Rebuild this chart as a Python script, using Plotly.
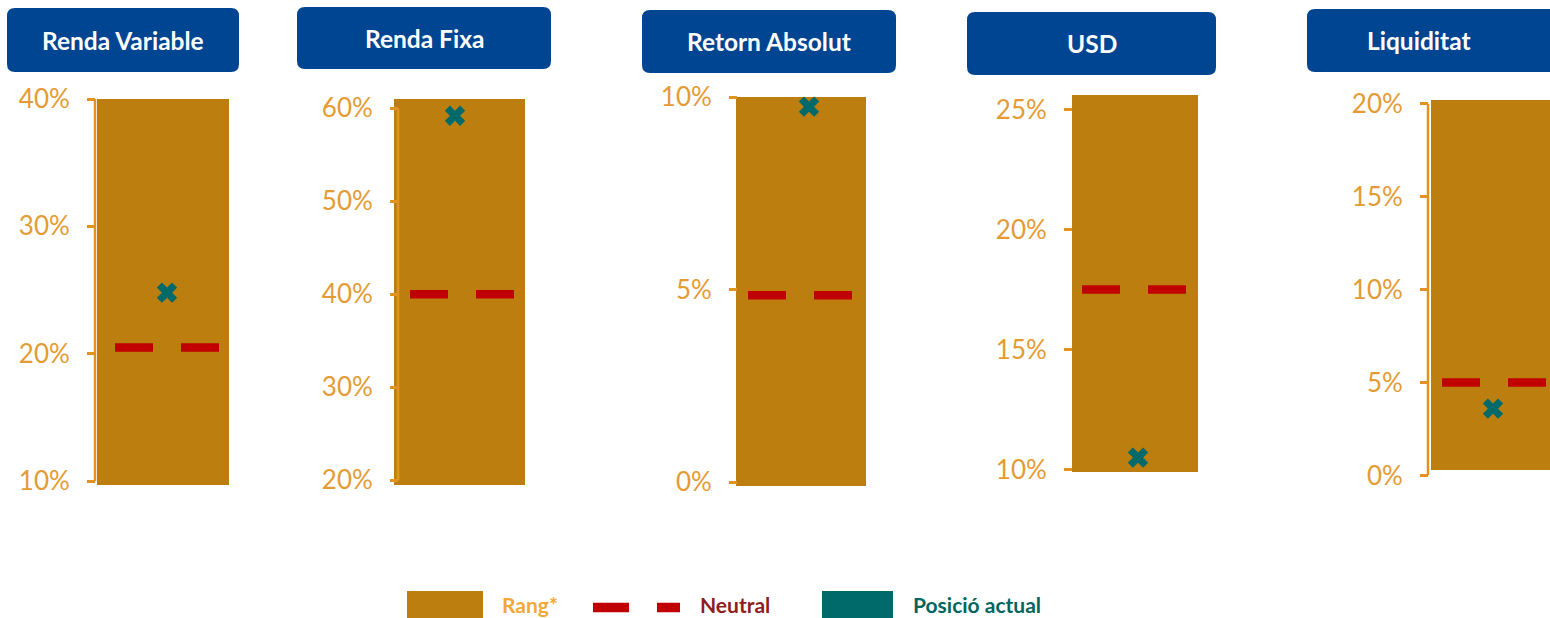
import plotly.graph_objects as go

# ---------------- data ----------------
categories = ["Renda Variable", "Renda Fixa", "Retorn Absolut", "USD", "Liquiditat"]
range_low = [9.7, 19.5, -0.1, 9.9, 0.3]
range_high = [40.0, 61.0, 10.0, 25.6, 20.2]
neutral = [20.5, 40.0, 4.85, 17.5, 5.0]
current = [24.8, 59.2, 9.75, 10.5, 3.6]
tick_values = [[10, 20, 30, 40], [20, 30, 40, 50, 60], [0, 5, 10], [10, 15, 20, 25], [0, 5, 10, 15, 20]]
tick_labels = [[f"{t}%" for t in tv] for tv in tick_values]
legend_labels = ["Rang*", "Neutral", "Posició actual"]

# ---------------- layout / style (pixels) ----------------
W, H = 1550, 618
bar_left = [97, 394, 736, 1072, 1431]
bar_width = [132, 131, 130, 126, 126]
bar_top = [99, 99, 97, 95, 100]
bar_bottom = [485, 485, 486, 472, 470]
axis_x = [95, 398, 737, 1072, 1428]
axis_line = [True, True, False, False, True]
title_box = [(7, 8, 239, 72), (297, 7, 551, 69), (642, 10, 896, 73), (967, 12, 1216, 75), (1307, 9, 1575, 72)]
title_center = [123, 424, 769, 1092, 1419]
# horizontal placement of the marks inside each bar (pixels from bar left)
dash_start_px = [18, 16, 12, 10, 11]
dash_len_px = 104
marker_px = [70, 61, 73, 66, 62]

GOLD = "#BC7F0F"
BLUE = "#004592"
RED = "#C00000"
TEAL = "#006A6A"
TICKTXT = "#E49B33"
AXISCOL = "#E3921E"
FONT = "Lato"


def px(x):
    return x / W


def py(y):
    return 1 - y / H


fig = go.Figure()
layout = dict(
    width=W, height=H, autosize=False,
    margin=dict(l=0, r=0, t=0, b=0, pad=0),
    paper_bgcolor="white", plot_bgcolor="rgba(0,0,0,0)",
    showlegend=False, shapes=[], annotations=[],
)

for i, cat in enumerate(categories):
    n = "" if i == 0 else str(i + 1)
    xa, ya = "x" + n, "y" + n
    bw = bar_width[i]
    vis = min(bar_left[i] + bw, W) - bar_left[i]
    # axis range covers both the bar and the tick range, at the bar's pixel scale
    lo = min(range_low[i], min(tick_values[i]))
    hi = max(range_high[i], max(tick_values[i]))
    scale = (bar_bottom[i] - bar_top[i]) / (range_high[i] - range_low[i])
    dom_top = bar_top[i] - (hi - range_high[i]) * scale
    dom_bot = bar_bottom[i] + (range_low[i] - lo) * scale
    layout["xaxis" + n] = dict(
        domain=[px(bar_left[i]), px(bar_left[i] + vis)],
        range=[-0.5, -0.5 + vis / bw],
        visible=False, fixedrange=True, anchor=ya, automargin=False,
    )
    layout["yaxis" + n] = dict(
        domain=[py(dom_bot), py(dom_top)],
        range=[lo, hi],
        anchor="free", position=px(axis_x[i]),
        tickvals=tick_values[i], ticktext=tick_labels[i],
        ticks="outside", ticklen=8, tickwidth=2.5, tickcolor=AXISCOL,
        showgrid=False, zeroline=False, showline=False,
        ticklabelstandoff=12, automargin=False,
        tickfont=dict(family=FONT, size=26, color=TICKTXT, weight=400),
        fixedrange=True,
    )
    # range bar
    fig.add_trace(go.Bar(
        x=[0], y=[range_high[i] - range_low[i]], base=[range_low[i]], width=1,
        marker=dict(color=GOLD, line=dict(width=0)),
        xaxis=xa, yaxis=ya, hoverinfo="skip",
    ))
    # neutral dashed line
    xs = dash_start_px[i] / bw - 0.5
    xe = (dash_start_px[i] + dash_len_px) / bw - 0.5
    fig.add_trace(go.Scatter(
        x=[xs, xe], y=[neutral[i], neutral[i]], mode="lines",
        line=dict(color=RED, width=8.5, dash="38px,28px"),
        xaxis=xa, yaxis=ya, hoverinfo="skip",
    ))
    # current position
    fig.add_trace(go.Scatter(
        x=[marker_px[i] / bw - 0.5], y=[current[i]], mode="markers",
        marker=dict(symbol="x", size=18, color=TEAL, line=dict(width=0)),
        cliponaxis=False, xaxis=xa, yaxis=ya, hoverinfo="skip",
    ))
    # axis line spanning tick range
    if axis_line[i]:
        layout["shapes"].append(dict(
            type="line", xref="paper", yref=ya,
            x0=px(axis_x[i]), x1=px(axis_x[i]),
            y0=min(tick_values[i]), y1=max(tick_values[i]),
            line=dict(color=AXISCOL, width=2.5), layer="above",
        ))
    # title box (rounded)
    x0, y0, x1, y1 = title_box[i]
    r = 8
    X0, X1 = px(x0), px(x1)
    Y0, Y1 = py(y0), py(y1)
    rx, ry = r / W, r / H
    path = (f"M{X0 + rx},{Y0} L{X1 - rx},{Y0} Q{X1},{Y0} {X1},{Y0 - ry} "
            f"L{X1},{Y1 + ry} Q{X1},{Y1} {X1 - rx},{Y1} "
            f"L{X0 + rx},{Y1} Q{X0},{Y1} {X0},{Y1 + ry} "
            f"L{X0},{Y0 - ry} Q{X0},{Y0} {X0 + rx},{Y0} Z")
    layout["shapes"].append(dict(type="path", xref="paper", yref="paper", path=path,
                                 fillcolor=BLUE, line=dict(width=0), layer="below"))
    layout["annotations"].append(dict(
        text=f"<b>{cat}</b>", xref="paper", yref="paper",
        x=px(title_center[i]), y=py((y0 + y1) / 2), xanchor="center", yanchor="middle",
        showarrow=False, font=dict(family=FONT, size=24.5, color="white"),
    ))

# ---------------- custom legend ----------------
layout["shapes"] += [
    dict(type="rect", xref="paper", yref="paper", x0=px(407), x1=px(483), y0=py(630), y1=py(591),
         fillcolor=GOLD, line=dict(width=0)),
    dict(type="line", xref="paper", yref="paper", x0=px(593), x1=px(629), y0=py(607.5), y1=py(607.5),
         line=dict(color=RED, width=9.5)),
    dict(type="line", xref="paper", yref="paper", x0=px(657), x1=px(680), y0=py(607.5), y1=py(607.5),
         line=dict(color=RED, width=9.5)),
    dict(type="rect", xref="paper", yref="paper", x0=px(822), x1=px(893), y0=py(630), y1=py(591),
         fillcolor=TEAL, line=dict(width=0)),
]
legend_pos = [(500, "#F2A738"), (698, "#8E1D22"), (911, "#00665F")]
for lab, (lx, col) in zip(legend_labels, legend_pos):
    layout["annotations"].append(dict(
        text=f"<b>{lab}</b>", xref="paper", yref="paper", x=px(lx), y=py(604),
        xanchor="left", yanchor="middle", showarrow=False,
        font=dict(family=FONT, size=21, color=col),
    ))

fig.update_layout(**layout)
fig.write_html("out.html", config={"displayModeBar": False},
               post_script="document.body.style.margin='0';")
